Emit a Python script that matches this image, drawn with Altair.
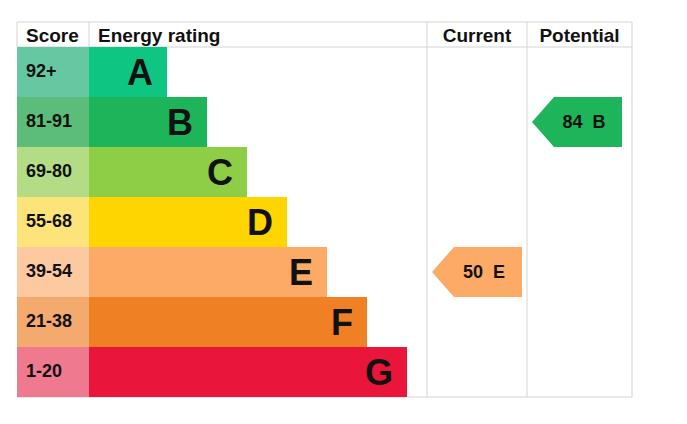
import altair as alt
import pandas as pd

# ---- data ----
bands = ["A", "B", "C", "D", "E", "F", "G"]
score_ranges = ["92+", "81-91", "69-80", "55-68", "39-54", "21-38", "1-20"]
bar_ends = [150, 190, 230, 270, 310, 350, 390]
bar_colors = ["#0ec682", "#1db45a", "#8dce46", "#ffd500", "#fcaa65", "#ef8023", "#e9153b"]
cell_colors = ["#66c8a3", "#5cbd7b", "#b3dc85", "#fde47a", "#fdc9a0", "#f4a96f", "#ef798e"]
headers = ["Score", "Energy rating", "Current", "Potential"]
col_edges = [0, 72, 410, 510, 615]

current_score, current_band = 50, "E"
potential_score, potential_band = 84, "B"

FONT = "Liberation Sans"
GRID = "#d3d3d3"

x_scale = alt.Scale(domain=[0, 615], nice=False, zero=False)
y_scale = alt.Scale(domain=[-0.5, 7], nice=False, zero=False, reverse=True)

rows = pd.DataFrame({
    "band": bands,
    "score": score_ranges,
    "row": list(range(7)),
    "row2": [i + 1 for i in range(7)],
    "mid": [i + 0.5 for i in range(7)],
    "end": bar_ends,
    "bar_color": bar_colors,
    "cell_color": cell_colors,
    "x0": [col_edges[0]] * 7,
    "x1": [col_edges[1]] * 7,
})

# grid lines
lines = pd.DataFrame([
    {"x": col_edges[0], "x2": col_edges[-1], "y": -0.5, "y2": -0.5},
    {"x": col_edges[0], "x2": col_edges[-1], "y": 0, "y2": 0},
    {"x": col_edges[0], "x2": col_edges[-1], "y": 7, "y2": 7},
    {"x": col_edges[0], "x2": col_edges[0], "y": -0.5, "y2": 0},
    {"x": col_edges[1], "x2": col_edges[1], "y": -0.5, "y2": 0},
    {"x": col_edges[2], "x2": col_edges[2], "y": -0.5, "y2": 7},
    {"x": col_edges[3], "x2": col_edges[3], "y": -0.5, "y2": 7},
    {"x": col_edges[4], "x2": col_edges[4], "y": -0.5, "y2": 7},
])

grid = alt.Chart(lines).mark_rule(color=GRID, strokeWidth=1).encode(
    x=alt.X("x:Q", scale=x_scale, axis=None),
    x2="x2:Q",
    y=alt.Y("y:Q", scale=y_scale, axis=None),
    y2="y2:Q",
)

cells = alt.Chart(rows).mark_rect().encode(
    x=alt.X("x0:Q", scale=x_scale, axis=None),
    x2="x1:Q",
    y=alt.Y("row:Q", scale=y_scale, axis=None),
    y2="row2:Q",
    color=alt.Color("cell_color:N", scale=None),
)

bars = alt.Chart(rows).mark_rect().encode(
    x=alt.X("x1:Q", scale=x_scale, axis=None),
    x2="end:Q",
    y=alt.Y("row:Q", scale=y_scale, axis=None),
    y2="row2:Q",
    color=alt.Color("bar_color:N", scale=None),
)

score_text = alt.Chart(rows).mark_text(
    align="left", baseline="middle", font=FONT, fontSize=18, fontWeight="bold", color="#111111", dx=9
).encode(
    x=alt.X("x0:Q", scale=x_scale, axis=None),
    y=alt.Y("mid:Q", scale=y_scale, axis=None),
    text="score:N",
)

letter_text = alt.Chart(rows).mark_text(
    align="right", baseline="middle", font=FONT, fontSize=36, fontWeight="bold", color="#111111", dx=-14, dy=2
).encode(
    x=alt.X("end:Q", scale=x_scale, axis=None),
    y=alt.Y("mid:Q", scale=y_scale, axis=None),
    text="band:N",
)

# header texts
hdr_left = pd.DataFrame({"x": [col_edges[0], col_edges[1]], "label": headers[:2], "y": [-0.25, -0.25]})
hdr_center = pd.DataFrame({
    "x": [(col_edges[2] + col_edges[3]) / 2, (col_edges[3] + col_edges[4]) / 2],
    "label": headers[2:], "y": [-0.25, -0.25]})

header_left = alt.Chart(hdr_left).mark_text(
    align="left", baseline="middle", font=FONT, fontSize=19, fontWeight="bold", color="#111111", dx=9, dy=1
).encode(
    x=alt.X("x:Q", scale=x_scale, axis=None),
    y=alt.Y("y:Q", scale=y_scale, axis=None),
    text="label:N",
)
header_center = alt.Chart(hdr_center).mark_text(
    align="center", baseline="middle", font=FONT, fontSize=19, fontWeight="bold", color="#111111", dy=1
).encode(
    x=alt.X("x:Q", scale=x_scale, axis=None),
    y=alt.Y("y:Q", scale=y_scale, axis=None),
    text="label:N",
)

# arrows (current and potential)
def arrow_layer(band, left, right):
    i = bands.index(band)
    tip_len = 22
    df = pd.DataFrame({
        "ax": [left, left + tip_len, right],
        "atop": [i + 0.5, i, i],
        "abot": [i + 0.5, i + 1, i + 1],
    })
    return alt.Chart(df).mark_area(color=bar_colors[i], orient="vertical", opacity=1).encode(
        x=alt.X("ax:Q", scale=x_scale, axis=None),
        y=alt.Y("atop:Q", scale=y_scale, axis=None, stack=None),
        y2="abot:Q",
    )

arrow_cur = arrow_layer(current_band, col_edges[2] + 5, col_edges[3] - 5)
arrow_pot = arrow_layer(potential_band, col_edges[3] + 5, col_edges[4] - 10)

arrow_labels = pd.DataFrame({
    "x": [col_edges[2] + 57, col_edges[3] + 57],
    "y": [bands.index(current_band) + 0.5, bands.index(potential_band) + 0.5],
    "label": [f"{current_score}\u00a0\u00a0{current_band}", f"{potential_score}\u00a0\u00a0{potential_band}"],
})
arrow_text = alt.Chart(arrow_labels).mark_text(
    align="center", baseline="middle", font=FONT, fontSize=18, fontWeight="bold", color="#111111", dy=1
).encode(
    x=alt.X("x:Q", scale=x_scale, axis=None),
    y=alt.Y("y:Q", scale=y_scale, axis=None),
    text="label:N",
)

chart = alt.layer(
    grid, cells, bars, score_text, letter_text, header_left, header_center, arrow_cur, arrow_pot, arrow_text
).properties(
    width=615, height=375,
    padding={"left": 8, "top": 13, "right": 5, "bottom": 5},
    background="white",
).configure_view(stroke=None)

chart.save("out.html", embed_options={"renderer": "svg", "actions": False})
